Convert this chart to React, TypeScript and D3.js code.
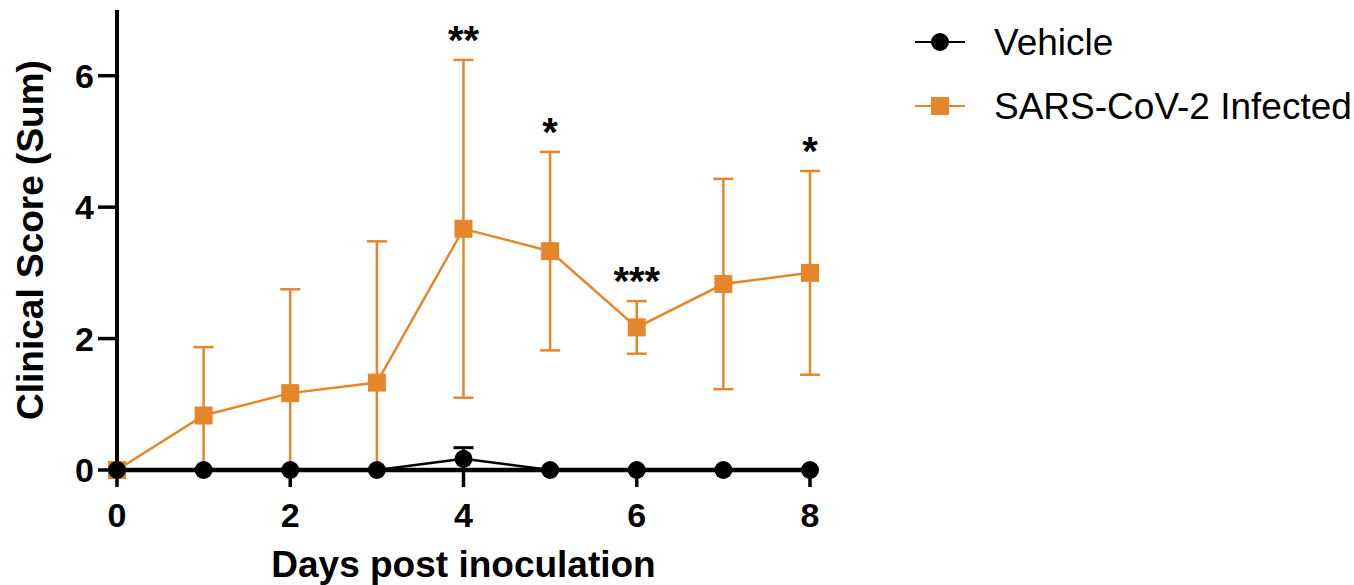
import { useEffect, useRef } from "react";
import * as d3 from "d3";

// values
const days = [0, 1, 2, 3, 4, 5, 6, 7, 8];
const vehicleMean = [0, 0, 0, 0, 0.17, 0, 0, 0, 0];
const vehicleSd = [0, 0, 0, 0, 0.17, 0, 0, 0, 0];
const infectedMean = [0, 0.83, 1.17, 1.33, 3.67, 3.33, 2.17, 2.83, 3.0];
const infectedSd = [0, 1.04, 1.58, 2.15, 2.57, 1.51, 0.4, 1.6, 1.55];

const sigDays = [4, 5, 6, 8];
const sigLabels = ["**", "*", "***", "*"];

const xTicks = [0, 2, 4, 6, 8];
const yTicks = [0, 2, 4, 6];

const seriesNames = ["Vehicle", "SARS-CoV-2 Infected"];

const ORANGE = "#E5862B";
const FONT = "'Liberation Sans', Arial, Helvetica, sans-serif";

export default function App() {
  const svgRef = useRef<SVGSVGElement | null>(null);

  useEffect(() => {
    if (!svgRef.current) return;
    const svg = d3.select(svgRef.current);
    svg.selectAll("*").remove();

    const x = d3.scaleLinear().domain([0, 8]).range([117, 810]);
    const y = d3.scaleLinear().domain([0, 7]).range([470, 10]);

    const g = svg.append("g");

    // axes
    g.append("line")
      .attr("x1", x(0)).attr("x2", x(0))
      .attr("y1", y(7)).attr("y2", y(0))
      .attr("stroke", "#000").attr("stroke-width", 4);
    g.append("line")
      .attr("x1", x(0)).attr("x2", x(8))
      .attr("y1", y(0)).attr("y2", y(0))
      .attr("stroke", "#000").attr("stroke-width", 4.5);

    g.selectAll(".ytick")
      .data(yTicks)
      .enter()
      .append("line")
      .attr("x1", x(0) - 19).attr("x2", x(0))
      .attr("y1", d => y(d)).attr("y2", d => y(d))
      .attr("stroke", "#000").attr("stroke-width", 3.5);

    g.selectAll(".ylab")
      .data(yTicks)
      .enter()
      .append("text")
      .attr("x", 94)
      .attr("y", d => y(d) + 12)
      .attr("text-anchor", "end")
      .attr("font-family", FONT)
      .attr("font-weight", "bold")
      .attr("font-size", 34)
      .text(d => d);

    g.selectAll(".xtick")
      .data(xTicks)
      .enter()
      .append("line")
      .attr("x1", d => x(d)).attr("x2", d => x(d))
      .attr("y1", y(0)).attr("y2", y(0) + 17)
      .attr("stroke", "#000").attr("stroke-width", 3.5);

    g.selectAll(".xlab")
      .data(xTicks)
      .enter()
      .append("text")
      .attr("x", d => x(d))
      .attr("y", 527)
      .attr("text-anchor", "middle")
      .attr("font-family", FONT)
      .attr("font-weight", "bold")
      .attr("font-size", 34)
      .text(d => d);

    g.append("text")
      .attr("x", (x(0) + x(8)) / 2)
      .attr("y", 577)
      .attr("text-anchor", "middle")
      .attr("font-family", FONT)
      .attr("font-weight", "bold")
      .attr("font-size", 37)
      .text("Days post inoculation");

    g.append("text")
      .attr("transform", "translate(43,240) rotate(-90)")
      .attr("text-anchor", "middle")
      .attr("font-family", FONT)
      .attr("font-weight", "bold")
      .attr("font-size", 37)
      .text("Clinical Score (Sum)");

    const line = d3.line<number>()
      .x((_, i) => x(days[i]))
      .y(d => y(d));

    const drawErrors = (mean: number[], sd: number[], color: string, width: number) => {
      const eg = g.append("g").attr("stroke", color).attr("stroke-width", width);
      days.forEach((d, i) => {
        if (sd[i] <= 0) return;
        const hi = mean[i] + sd[i];
        const lo = Math.max(0, mean[i] - sd[i]);
        eg.append("line")
          .attr("x1", x(d)).attr("x2", x(d))
          .attr("y1", y(hi)).attr("y2", y(lo));
        eg.append("line")
          .attr("x1", x(d) - 10).attr("x2", x(d) + 10)
          .attr("y1", y(hi)).attr("y2", y(hi));
        if (mean[i] - sd[i] > 0) {
          eg.append("line")
            .attr("x1", x(d) - 10).attr("x2", x(d) + 10)
            .attr("y1", y(lo)).attr("y2", y(lo));
        }
      });
    };

    // infected series
    drawErrors(infectedMean, infectedSd, ORANGE, 2.5);
    g.append("path")
      .datum(infectedMean)
      .attr("d", line)
      .attr("fill", "none")
      .attr("stroke", ORANGE)
      .attr("stroke-width", 2.5);
    g.selectAll(".sq")
      .data(infectedMean)
      .enter()
      .append("rect")
      .attr("x", (_, i) => x(days[i]) - 9)
      .attr("y", d => y(d) - 9)
      .attr("width", 18)
      .attr("height", 18)
      .attr("fill", ORANGE);

    // vehicle series
    drawErrors(vehicleMean, vehicleSd, "#000", 3);
    g.append("path")
      .datum(vehicleMean)
      .attr("d", line)
      .attr("fill", "none")
      .attr("stroke", "#000")
      .attr("stroke-width", 2.5);
    g.selectAll(".dot")
      .data(vehicleMean)
      .enter()
      .append("circle")
      .attr("cx", (_, i) => x(days[i]))
      .attr("cy", d => y(d))
      .attr("r", 9)
      .attr("fill", "#000");

    // significance stars
    g.selectAll(".sig")
      .data(sigDays)
      .enter()
      .append("text")
      .attr("x", d => x(d))
      .attr("y", d => {
        const i = days.indexOf(d);
        return y(infectedMean[i] + infectedSd[i]) - 6;
      })
      .attr("text-anchor", "middle")
      .attr("font-family", FONT)
      .attr("font-weight", "bold")
      .attr("font-size", 40)
      .text((_, i) => sigLabels[i]);

    // legend
    const legend = g.append("g");
    const rows = [
      { name: seriesNames[0], color: "#000", y: 42, shape: "circle" },
      { name: seriesNames[1], color: ORANGE, y: 106, shape: "square" },
    ];
    rows.forEach(r => {
      legend.append("line")
        .attr("x1", 915).attr("x2", 965)
        .attr("y1", r.y).attr("y2", r.y)
        .attr("stroke", r.color).attr("stroke-width", 2);
      if (r.shape === "circle") {
        legend.append("circle").attr("cx", 940).attr("cy", r.y).attr("r", 9).attr("fill", r.color);
      } else {
        legend.append("rect").attr("x", 931).attr("y", r.y - 9).attr("width", 18).attr("height", 18).attr("fill", r.color);
      }
      legend.append("text")
        .attr("x", 994)
        .attr("y", r.y + 13)
        .attr("font-family", FONT)
        .attr("font-size", 37)
        .text(r.name);
    });
  }, []);

  return (
    <svg
      ref={svgRef}
      width={1354}
      height={585}
      style={{ position: "fixed", left: 0, top: 0, background: "#fff" }}
    />
  );
}
